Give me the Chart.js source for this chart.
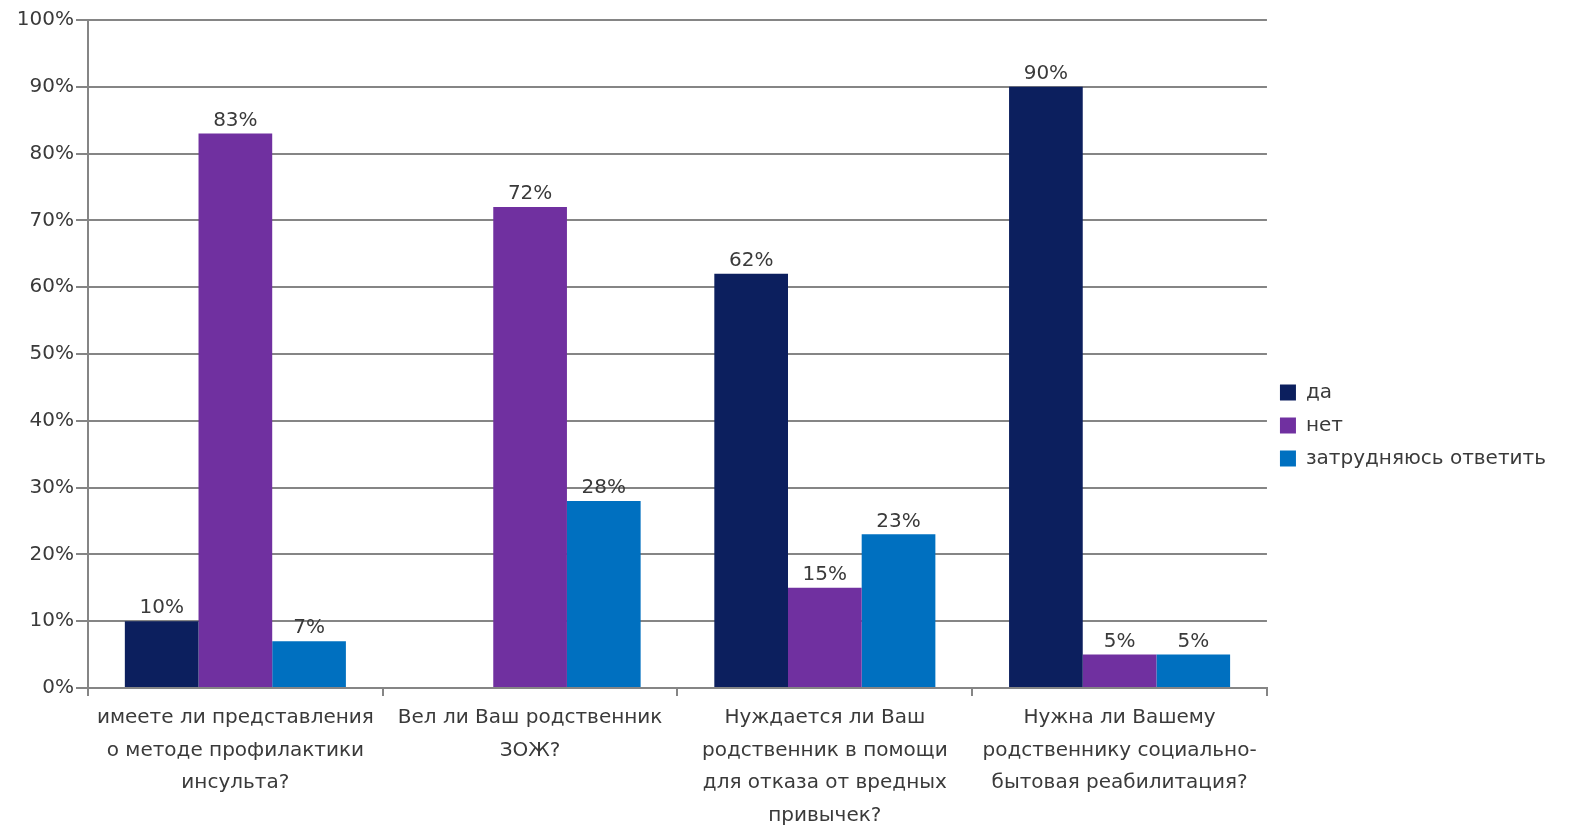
<!DOCTYPE html>
<html>
<head>
<meta charset="utf-8">
<script src="https://cdn.jsdelivr.net/npm/chart.js@4/dist/chart.umd.min.js"></script>
<style>
  html, body { margin: 0; padding: 0; background: #fff; }
  #wrap { width: 1570px; height: 831px; }
</style>
</head>
<body>
<div id="wrap"><canvas id="chart" width="1570" height="831"></canvas></div>
<script>
// вопросы анкеты
const questions = [
    ["имеете ли представления", "о методе профилактики", "инсульта?"],
    ["Вел ли Ваш родственник", "ЗОЖ?"],
    ["Нуждается ли Ваш", "родственник в помощи", "для отказа от вредных", "привычек?"],
    ["Нужна ли Вашему", "родственнику социально-", "бытовая реабилитация?"]
];
const da = [10, null, 62, 90];
const net = [83, 72, 15, 5];
const zatr = [7, 28, 23, 5];
const yTicks = [0, 10, 20, 30, 40, 50, 60, 70, 80, 90, 100];

const FONT = "'DejaVu Sans', Verdana, sans-serif";
const TXT = '#3a3a3a';
const GRID = '#858585';

// подписи над столбиками
const valueLabels = {
    id: 'valueLabels',
    afterDatasetsDraw(chart) {
        const ctx = chart.ctx;
        ctx.save();
        ctx.font = '20px ' + FONT;
        ctx.fillStyle = TXT;
        ctx.textAlign = 'center';
        ctx.textBaseline = 'bottom';
        chart.data.datasets.forEach((ds, i) => {
            chart.getDatasetMeta(i).data.forEach((bar, j) => {
                const v = ds.data[j];
                if (v === null || v === undefined) return;
                ctx.fillText(v + '%', bar.x, bar.y - 3);
            });
        });
        ctx.restore();
    }
};

new Chart(document.getElementById('chart'), {
    type: 'bar',
    data: {
        labels: questions,
        datasets: [
            {label: 'да', data: da, backgroundColor: '#0c1f5e'},
            {label: 'нет', data: net, backgroundColor: '#7030a0'},
            {label: 'затрудняюсь ответить', data: zatr, backgroundColor: '#0070c0'}
        ]
    },
    options: {
        responsive: false,
        animation: false,
        layout: {padding: {top: 20, right: 14, left: 10, bottom: 0}},
        datasets: {bar: {categoryPercentage: 0.75, barPercentage: 1}},
        plugins: {
            tooltip: {enabled: false},
            legend: {
                position: 'right',
                align: 'center',
                labels: {
                    font: {family: FONT, size: 20},
                    color: TXT,
                    boxWidth: 16, boxHeight: 16,
                    padding: 13,
                    useBorderRadius: false
                }
            }
        },
        scales: {
            y: {
                min: 0, max: 100,
                afterBuildTicks(ax) { ax.ticks = yTicks.map(v => ({value: v})); },
                afterFit(ax) { ax.width = 78; },
                border: {color: GRID, width: 2},
                grid: {color: GRID, lineWidth: 2, tickLength: 12},
                ticks: {
                    font: {family: FONT, size: 20},
                    color: TXT,
                    padding: 2,
                    callback: v => v + '%'
                }
            },
            x: {
                afterFit(ax) { ax.height = 143; },
                border: {color: GRID, width: 2},
                grid: {offset: true, drawOnChartArea: false, color: GRID, lineWidth: 2, tickLength: 8},
                ticks: {
                    font: {family: FONT, size: 20, lineHeight: 1.62},
                    color: TXT,
                    padding: 6,
                    maxRotation: 0,
                    autoSkip: false
                }
            }
        }
    },
    plugins: [valueLabels]
});
</script>
</body>
</html>
